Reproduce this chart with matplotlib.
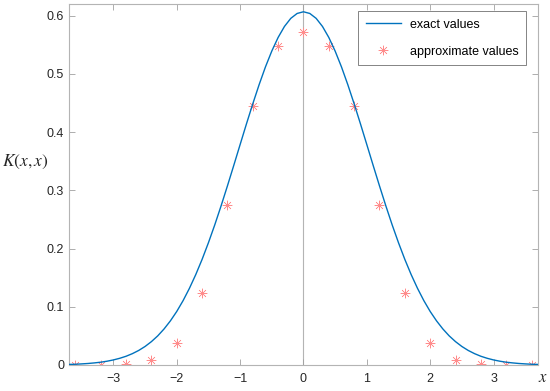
import matplotlib
matplotlib.use('Agg')
import matplotlib.pyplot as plt
import numpy as np

plt.rcParams['font.family'] = ['Liberation Sans', 'DejaVu Sans']
plt.rcParams['mathtext.fontset'] = 'stix'

# exact curve K(x,x)
x_exact = np.round(np.arange(-3.7, 3.71, 0.1), 1)
k_exact = [0.0010, 0.0013, 0.0019, 0.0026, 0.0036, 0.0048, 0.0065, 0.0087,
           0.0115, 0.0150, 0.0195, 0.0250, 0.0318, 0.0401, 0.0500, 0.0619,
           0.0758, 0.0919, 0.1105, 0.1316, 0.1552, 0.1813, 0.2099, 0.2406,
           0.2733, 0.3075, 0.3427, 0.3784, 0.4139, 0.4484, 0.4813, 0.5118,
           0.5390, 0.5624, 0.5813, 0.5952, 0.6036,
           0.6065,
           0.6036, 0.5952, 0.5813, 0.5624, 0.5390, 0.5118, 0.4813, 0.4484,
           0.4139, 0.3784, 0.3427, 0.3075, 0.2733, 0.2406, 0.2099, 0.1813,
           0.1552, 0.1316, 0.1105, 0.0919, 0.0758, 0.0619, 0.0500, 0.0401,
           0.0318, 0.0250, 0.0195, 0.0150, 0.0115, 0.0087, 0.0065, 0.0048,
           0.0036, 0.0026, 0.0019, 0.0013, 0.0010]

# approximate values
x_approx = [-3.6, -3.2, -2.8, -2.4, -2.0, -1.6, -1.2, -0.8, -0.4, 0.0,
            0.4, 0.8, 1.2, 1.6, 2.0, 2.4, 2.8, 3.2, 3.6]
k_approx = [0.0, 0.0, 0.001, 0.0086, 0.037, 0.123, 0.274, 0.445, 0.547, 0.572,
            0.547, 0.445, 0.274, 0.123, 0.037, 0.0086, 0.001, 0.0, 0.0]

xticks = [-3, -2, -1, 0, 1, 2, 3]
yticks = [0, 0.1, 0.2, 0.3, 0.4, 0.5, 0.6]

fig = plt.figure(figsize=(5.5, 3.91), dpi=100)
ax = fig.add_axes([0.1255, 0.0665, 0.8525, 0.9235])

ax.axvline(0, color='#b4b4b4', linewidth=0.8, zorder=1)
ax.plot(x_exact, k_exact, color=(0, 0.447, 0.741), linewidth=1.0,
        label='exact values', zorder=3)
ax.plot(x_approx, k_approx, linestyle='none', marker=(8, 2, 0), markersize=7,
        markeredgewidth=0.4, color='#ff8c8c', label='approximate values',
        zorder=2)

ax.set_xlim(-3.7, 3.7)
ax.set_ylim(0, 0.62)
ax.set_xticks(xticks)
ax.set_yticks(yticks)
ax.set_xticklabels(['\u22123', '\u22122', '\u22121', '0', '1', '2', '3'])
ax.set_yticklabels(['0', '0.1', '0.2', '0.3', '0.4', '0.5', '0.6'])
ax.tick_params(direction='in', length=4, width=0.6, color='#a0a0a0',
               labelsize=9, labelcolor='#262626', top=True, right=True)
ax.tick_params(axis='x', pad=6)
for s in ax.spines.values():
    s.set_color('#b4b4b4')
    s.set_linewidth(0.8)

fig.text(542.5 / 550, 1 - 378 / 391, r'$x$', fontsize=12,
         ha='center', va='center', color='#262626')
fig.text(0.047, 1 - 162 / 391, r'$K(x,x)$', fontsize=12.5, ha='center',
         va='center', color='#262626')

leg = ax.legend(loc='upper right', bbox_to_anchor=(0.9875, 0.997),
                fontsize=9, fancybox=False, framealpha=1, handlelength=2.8,
                labelspacing=1.2, borderpad=0.6, handletextpad=0.7)
leg.get_frame().set_edgecolor('#707070')
leg.get_frame().set_linewidth(0.6)

fig.savefig('out.png', dpi=100)
